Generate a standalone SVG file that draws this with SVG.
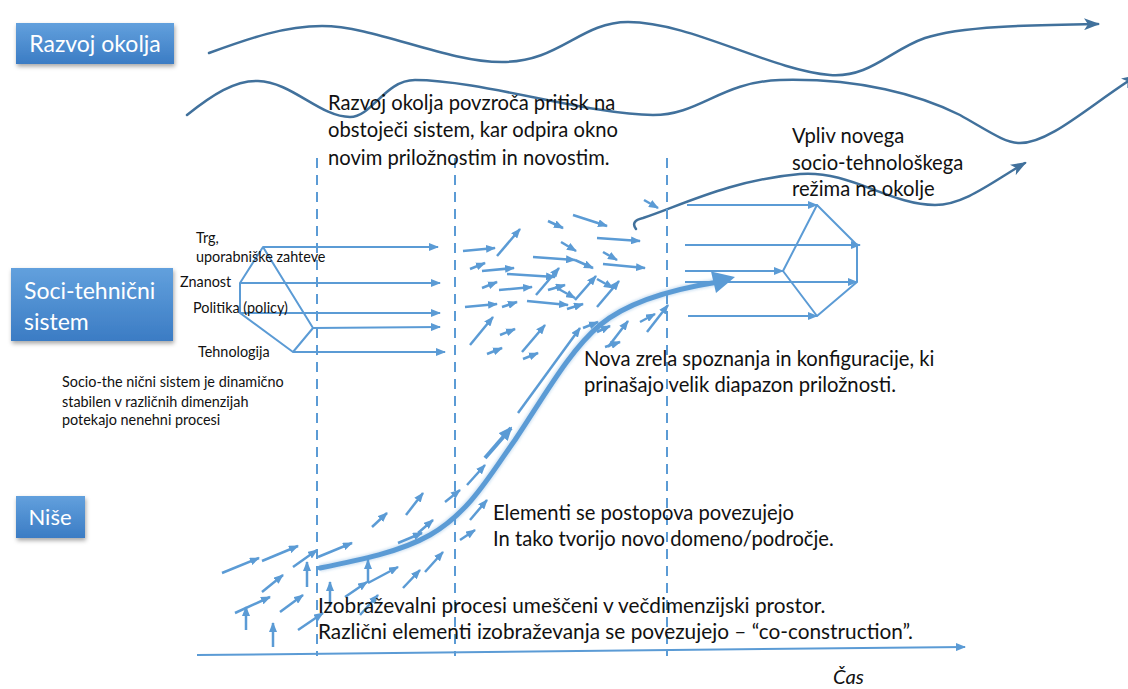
<svg xmlns="http://www.w3.org/2000/svg" width="1128" height="689" viewBox="0 0 1128 689">
  <defs>
    <linearGradient id="boxFill" x1="0" y1="0" x2="0" y2="1">
      <stop offset="0" stop-color="#62a0dd"/>
      <stop offset="1" stop-color="#3b7cc4"/>
    </linearGradient>
    <filter id="shadow" x="-10%" y="-20%" width="130%" height="150%">
      <feDropShadow dx="1" dy="2.5" stdDeviation="2" flood-color="#000" flood-opacity="0.35"/>
    </filter>
    <filter id="soft" x="-5%" y="-5%" width="110%" height="110%">
      <feGaussianBlur stdDeviation="1"/>
    </filter>
    <marker id="ah" viewBox="0 0 10 8" refX="9" refY="4" markerWidth="10" markerHeight="8" markerUnits="userSpaceOnUse" orient="auto">
      <path d="M0,0 L10,4 L0,8 Z" fill="#5b9bd5"/>
    </marker>
    <marker id="ahBig" viewBox="0 0 14 12" refX="12" refY="6" markerWidth="14" markerHeight="12" markerUnits="userSpaceOnUse" orient="auto">
      <path d="M0,0 L14,6 L0,12 Z" fill="#5b9bd5"/>
    </marker>
    <marker id="ahDark" viewBox="0 0 16 12" refX="14" refY="6" markerWidth="16" markerHeight="12" markerUnits="userSpaceOnUse" orient="auto">
      <path d="M0,0 L16,6 L0,12 L4,6 Z" fill="#41719c"/>
    </marker>
    <style>
      .box { fill: url(#boxFill); filter: url(#shadow); }
      .boxText { font-family: Lato, "Liberation Sans", sans-serif; fill: #ffffff; }
      .wave { fill: none; stroke: #41719c; stroke-width: 2.5; stroke-linecap: round; }
      .dash { stroke: #5b9bd5; stroke-width: 2; stroke-dasharray: 10 7; fill: none; }
      .a { stroke: #5b9bd5; stroke-width: 2.5; fill: none; marker-end: url(#ah); }
      .h { stroke: #5b9bd5; stroke-width: 2; fill: none; marker-end: url(#ah); }
      .edge { stroke: #5b9bd5; stroke-width: 2; fill: none; stroke-linejoin: round; }
      .t { font-family: Lato, "Liberation Sans", sans-serif; font-size: 20.2px; fill: #111111; }
      .b { font-family: Lato, "Liberation Sans", sans-serif; font-size: 20.8px; fill: #111111; }
      .s { font-family: Lato, "Liberation Sans", sans-serif; font-size: 14.4px; fill: #111111; }
    </style>
  </defs>

  <rect width="1128" height="689" fill="#ffffff"/>

  <!-- environment waves -->
  <g id="waves">
    <path class="wave" d="M209,53 C250,38 285,26 322,26 C375,26 445,62 502,62 C560,62 580,22 628,22 C690,22 770,70 830,75 C870,78 890,50 925,38 C960,26 1030,25 1098,24" marker-end="url(#ahDark)"/>
    <path class="wave" d="M187,115 C212,95 235,80 258,81 C292,82 320,117 350,117 C372,117 385,80 415,80 C480,80 590,115 653,115 C700,115 720,82 780,80 C860,78 920,95 960,115 C990,132 1005,143 1020,143 C1050,143 1090,105 1136,76" marker-end="url(#ahDark)"/>
    <path class="wave" d="M636,229 Q630,221 643,218 C680,206 730,180 800,174 C850,170 890,205 935,205 C965,205 995,180 1025,163" marker-end="url(#ahDark)"/>
  </g>

  <!-- level labels -->
  <g id="razvoj-okolja">
    <rect class="box" x="16" y="23" width="158" height="41"/>
    <text class="boxText" x="95" y="51.5" font-size="23" text-anchor="middle">Razvoj okolja</text>
  </g>
  <g id="soci-tehnicni-sistem">
    <rect class="box" x="11" y="268" width="162" height="73"/>
    <text class="boxText" x="24" y="299" font-size="23">Soci-tehnični</text>
    <text class="boxText" x="24" y="330" font-size="23">sistem</text>
  </g>
  <g id="nise">
    <rect class="box" x="16" y="496" width="69" height="42"/>
    <text class="boxText" x="50" y="525" font-size="22" text-anchor="middle">Niše</text>
  </g>

  <!-- time phases -->
  <g id="phases">
    <line class="dash" x1="317" y1="158" x2="317" y2="656"/>
    <line class="dash" x1="455" y1="158" x2="455" y2="656"/>
    <line class="dash" x1="667" y1="158" x2="667" y2="656"/>
  </g>

  <g id="connectors">
    <!-- time axis -->
    <line class="h" x1="197" y1="655" x2="965" y2="647" stroke-width="2.5"/>

    <!-- regime dimensions (left) -->
    <g id="regime-left">
      <path class="edge" d="M263,247 L240,283 L240,313 L293,352 L313,328 Z"/>
      <line class="h" x1="263" y1="247" x2="438" y2="247"/>
      <line class="h" x1="240" y1="283" x2="440" y2="283"/>
      <line class="h" x1="240" y1="313" x2="440" y2="313"/>
      <line class="h" x1="313" y1="328" x2="440" y2="327"/>
      <line class="h" x1="293" y1="352" x2="445" y2="352"/>
    </g>

    <!-- new regime (right) -->
    <g id="regime-right">
      <path class="edge" d="M817,205 L857,245 L857,282 L817,316 L783,271 Z"/>
      <line class="h" x1="687" y1="205" x2="817" y2="205"/>
      <line class="h" x1="685" y1="245" x2="860" y2="245"/>
      <line class="h" x1="685" y1="271" x2="783" y2="271"/>
      <line class="h" x1="685" y1="282" x2="857" y2="282"/>
      <line class="h" x1="688" y1="316" x2="817" y2="316"/>
    </g>

    <!-- destabilised regime: scattered elements -->
    <g id="cloud">
      <line class="a" x1="463" y1="251" x2="495" y2="248"/>
      <line class="a" x1="497" y1="256" x2="520" y2="229"/>
      <line class="a" x1="548" y1="221" x2="563" y2="228"/>
      <line class="a" x1="573" y1="215" x2="607" y2="226"/>
      <line class="a" x1="644" y1="200" x2="658" y2="208"/>
      <line class="a" x1="561" y1="242" x2="576" y2="251"/>
      <line class="a" x1="597" y1="238" x2="640" y2="241"/>
      <line class="a" x1="603" y1="252" x2="617" y2="260"/>
      <line class="a" x1="603" y1="264" x2="645" y2="268"/>
      <line class="a" x1="470" y1="269" x2="485" y2="263"/>
      <line class="a" x1="482" y1="271" x2="514" y2="268"/>
      <line class="a" x1="533" y1="257" x2="575" y2="260"/>
      <line class="a" x1="575" y1="260" x2="593" y2="268"/>
      <line class="a" x1="507" y1="274" x2="555" y2="277"/>
      <line class="a" x1="536" y1="295" x2="559" y2="268"/>
      <line class="a" x1="482" y1="288" x2="497" y2="282"/>
      <line class="a" x1="499" y1="290" x2="532" y2="287"/>
      <line class="a" x1="548" y1="290" x2="565" y2="285"/>
      <line class="a" x1="555" y1="287" x2="575" y2="298"/>
      <line class="a" x1="575" y1="300" x2="596" y2="276"/>
      <line class="a" x1="597" y1="279" x2="613" y2="288"/>
      <line class="a" x1="597" y1="307" x2="619" y2="281"/>
      <line class="a" x1="465" y1="307" x2="497" y2="304"/>
      <line class="a" x1="502" y1="307" x2="517" y2="302"/>
      <line class="a" x1="527" y1="301" x2="568" y2="305"/>
      <line class="a" x1="567" y1="309" x2="583" y2="304"/>
      <line class="a" x1="470" y1="345" x2="493" y2="317"/>
      <line class="a" x1="500" y1="335" x2="515" y2="329"/>
      <line class="a" x1="487" y1="354" x2="502" y2="348"/>
      <line class="a" x1="522" y1="352" x2="545" y2="325"/>
      <line class="a" x1="523" y1="359" x2="538" y2="353"/>
      <line class="a" x1="597" y1="332" x2="610" y2="326"/>
      <line class="a" x1="608" y1="347" x2="628" y2="321"/>
      <line class="a" x1="605" y1="347" x2="620" y2="342"/>
      <line class="a" x1="640" y1="322" x2="655" y2="314"/>
      <line class="a" x1="647" y1="332" x2="668" y2="305"/>
      <line class="a" x1="583" y1="328" x2="598" y2="322"/>
    </g>

    <!-- niche elements -->
    <g id="niche">
      <line class="a" x1="222" y1="573" x2="259" y2="558"/>
      <line class="a" x1="262" y1="561" x2="298" y2="546"/>
      <line class="a" x1="293" y1="567" x2="317" y2="550"/>
      <line class="a" x1="318" y1="557" x2="352" y2="543"/>
      <line class="a" x1="262" y1="592" x2="283" y2="575"/>
      <line class="a" x1="235" y1="613" x2="270" y2="597"/>
      <line class="a" x1="280" y1="612" x2="303" y2="595"/>
      <line class="a" x1="246" y1="630" x2="246" y2="607"/>
      <line class="a" x1="273" y1="647" x2="273" y2="623"/>
      <line class="a" x1="307" y1="587" x2="307" y2="562"/>
      <line class="a" x1="330" y1="607" x2="330" y2="582"/>
      <line class="a" x1="298" y1="630" x2="323" y2="613"/>
      <line class="a" x1="345" y1="597" x2="367" y2="582"/>
      <line class="a" x1="368" y1="583" x2="368" y2="560"/>
      <line class="a" x1="368" y1="583" x2="398" y2="567"/>
      <line class="a" x1="360" y1="615" x2="378" y2="595"/>
      <line class="a" x1="403" y1="588" x2="420" y2="570"/>
      <line class="a" x1="425" y1="572" x2="443" y2="552"/>
      <line class="a" x1="372" y1="527" x2="387" y2="513"/>
      <line class="a" x1="406" y1="515" x2="423" y2="493"/>
      <line class="a" x1="418" y1="533" x2="433" y2="520"/>
      <line class="a" x1="398" y1="543" x2="422" y2="533"/>
      <line class="a" x1="445" y1="502" x2="460" y2="490"/>
      <line class="a" x1="467" y1="485" x2="485" y2="465"/>
      <line class="a" x1="460" y1="540" x2="475" y2="530"/>
      <line class="a" x1="470" y1="520" x2="487" y2="500"/>
    </g>

    <!-- emerging trajectory -->
    <g id="trajectory">
      <path d="M320,568 C360,560 400,552 430,535 C470,512 490,475 515,440 C545,395 570,350 600,325 C630,300 680,288 718,282" fill="none" stroke="#5b9bd5" stroke-width="8" stroke-opacity="0.25" filter="url(#soft)"/>
      <path d="M320,568 C360,560 400,552 430,535 C470,512 490,475 515,440 C545,395 570,350 600,325 C630,300 680,288 718,282" fill="none" stroke="#5b9bd5" stroke-width="5" stroke-linecap="round"/>
      <polygon points="735,277 711,271.5 716,293" fill="#5b9bd5"/>
      <line stroke="#5b9bd5" stroke-width="4" x1="485" y1="458" x2="511" y2="428" marker-end="url(#ahBig)"/>
      <line class="a" x1="518" y1="413" x2="580" y2="328" stroke-width="2"/>
    </g>
  </g>

  <!-- annotations -->
  <g id="labels">
    <text class="t" x="328" y="110">Razvoj okolja povzroča pritisk na</text>
    <text class="t" x="328" y="137">obstoječi sistem, kar odpira okno</text>
    <text class="t" x="328" y="165">novim priložnostim in novostim.</text>

    <text class="t" x="792" y="143">Vpliv novega</text>
    <text class="t" x="792" y="170">socio-tehnološkega</text>
    <text class="t" x="792" y="196">režima na okolje</text>

    <text class="s" x="196" y="243">Trg,</text>
    <text class="s" x="196" y="262">uporabniške zahteve</text>
    <text class="s" x="180" y="287">Znanost</text>
    <text class="s" x="193" y="313">Politika (policy)</text>
    <text class="s" x="198" y="357">Tehnologija</text>

    <text class="s" x="62" y="387">Socio-the nični sistem je dinamično</text>
    <text class="s" x="62" y="407">stabilen v različnih dimenzijah</text>
    <text class="s" x="62" y="425">potekajo nenehni procesi</text>

    <text class="t" x="584" y="366">Nova zrela spoznanja in konfiguracije, ki</text>
    <text class="t" x="584" y="392">prinašajo velik diapazon priložnosti.</text>

    <text class="t" x="493" y="520">Elementi se postopova povezujejo</text>
    <text class="t" x="493" y="546">In tako tvorijo novo domeno/področje.</text>

    <text class="b" x="318" y="613">Izobraževalni procesi umeščeni v večdimenzijski prostor.</text>
    <text class="b" x="318" y="639">Različni elementi izobraževanja se povezujejo – “co-construction”.</text>

    <text class="t" x="833" y="684" font-size="22" font-style="italic">Čas</text>
  </g>
</svg>
